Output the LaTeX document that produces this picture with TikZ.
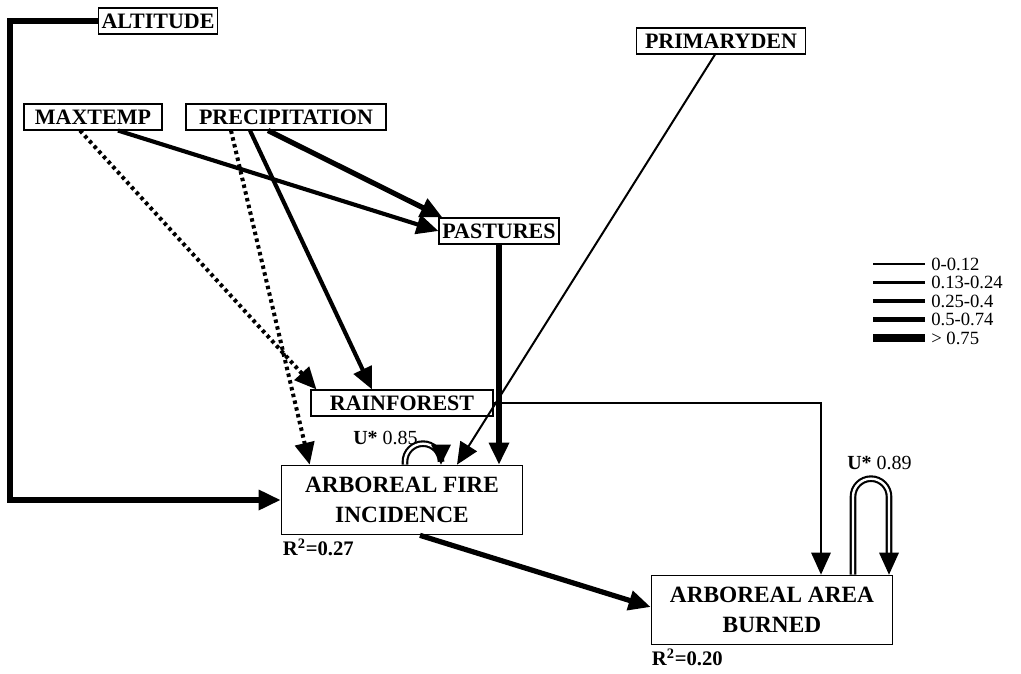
\documentclass[tikz,border=0pt]{standalone}
\usepackage{fontspec}
\setmainfont{Liberation Serif}
\usetikzlibrary{arrows.meta,calc}

\tikzset{
  var/.style={draw, line width=0.8pt, inner xsep=2.5pt, inner ysep=0pt,
    minimum height=19.5pt, fill=white,
    font=\bfseries\fontsize{16.5}{18}\selectfont},
  outcome/.style={draw, line width=1pt, minimum width=181pt, minimum height=52pt,
    align=center, font=\bfseries\fontsize{17.5}{22.5}\selectfont},
  tip/.style={-{Triangle[length=16.5pt,width=14.5pt]}},
  w1/.style={line width=1.5pt},
  w2/.style={line width=2.3pt},
  w3/.style={line width=3.1pt},
  w4/.style={line width=3.9pt},
  w5/.style={line width=5.3pt},
  dots/.style={line width=3pt, dash pattern=on 2.6pt off 2.6pt},
  loopline/.style={line width=1.6pt, double=white, double distance=1.8pt},
  loophead/.style={fill=black},
  lab/.style={font=\fontsize{15}{17}\selectfont},
  legtext/.style={font=\fontsize{14}{16}\selectfont},
  rsq/.style={font=\bfseries\fontsize{15.5}{17}\selectfont},
}

\begin{document}
\begin{tikzpicture}[x=0.75pt, y=-0.75pt]
\path[use as bounding box] (0,0) rectangle (1021,674);

% variables
\node[var] (alt) at (158,21) {ALTITUDE};
\node[var, minimum width=103.5pt] (mt) at (93,117) {MAXTEMP};
\node[var, minimum width=150pt] (pr) at (286,117) {PRECIPITATION};
\node[var, minimum width=127pt] (pd) at (721,41) {PRIMARYDEN};
\node[var] (pas) at (499,231) {PASTURES};
\node[var, minimum width=136.5pt] (rf) at (402,403) {RAINFOREST};
\node[outcome] (fire) at (402,500) {ARBOREAL FIRE\\INCIDENCE};
\node[outcome] (area) at (772,610) {ARBOREAL AREA\\BURNED};

% R-squared labels
\node[rsq, anchor=north west, inner sep=0pt] (r1) at ($(fire.south west)+(2,3)$) {R\textsuperscript{2}=0.27};
\node[rsq, anchor=north west, inner sep=0pt] (r2) at ($(area.south west)+(1,3)$) {R\textsuperscript{2}=0.20};

% paths
\coordinate (c1) at (10,21);
\coordinate (c2) at (10,500);
\draw[w4, tip] (alt.west) -- (c1) -- (c2) -- (fire.west);

\draw[w3, tip] ($(mt.south)+(25,0)$) -- (pas.west);
\draw[dots, tip] ($(mt.south)+(-13,0)$) -- ($(rf.north west)+(6,0)$);

\draw[w4, tip] ($(pr.south)+(-18,0)$) -- ($(pas.north west)+(4,0)$);
\draw[w3, tip] ($(pr.south)+(-36,0)$) -- ($(rf.north)+(-30,0)$);
\draw[dots, tip] ($(pr.south)+(-55,0)$) -- ($(fire.north west)+(29,0)$);

\draw[w1, tip] ($(pd.south)+(-6,0)$) -- ($(fire.north)+(55,0)$);

\draw[w4, tip] (pas.south) -- (pas.south |- fire.north);

\draw[w1, tip] (rf.east) -| ($(area.north)+(49,0)$);

\draw[w4, tip] ($(fire.south)+(18,0)$) -- ($(area.west)+(0,-3)$);

% unexplained variance loops
\coordinate (l1a) at ($(fire.north)+(3,0)$);
\coordinate (l1b) at ($(fire.north)+(39,0)$);
\draw[loopline] (l1a) -- ++(0,-3) arc[start angle=180, end angle=360, radius=18] -- ++(0,-1);
\fill[loophead] (l1b) -- ++(-10,-20) -- ++(20,0) -- cycle;
\node[lab, anchor=east, inner sep=0pt] (u1) at ($(l1a)+(13,-27)$) {\textbf{U*} 0.85};

\coordinate (l2a) at ($(area.north)+(81,0)$);
\coordinate (l2b) at ($(area.north)+(117,0)$);
\draw[loopline] (l2a) -- ++(0,-78) arc[start angle=180, end angle=360, radius=18] -- ++(0,58);
\fill[loophead] (l2b) -- ++(-10,-22) -- ++(20,0) -- cycle;
\node[lab, anchor=west, inner sep=0pt] (u2) at ($(l2a)+(-6,-112)$) {\textbf{U*} 0.89};

% legend
\foreach \w/\t [count=\i] in {w1/0-0.12, w2/0.13-0.24, w3/0.25-0.4, w4/0.5-0.74, w5/{> 0.75}} {
  \draw[\w] (873,{245.5+18.5*\i}) -- (925,{245.5+18.5*\i});
  \node[legtext, anchor=west, inner sep=0pt] (leg\i) at (931,{245.5+18.5*\i}) {\t};
}
\end{tikzpicture}
\end{document}
